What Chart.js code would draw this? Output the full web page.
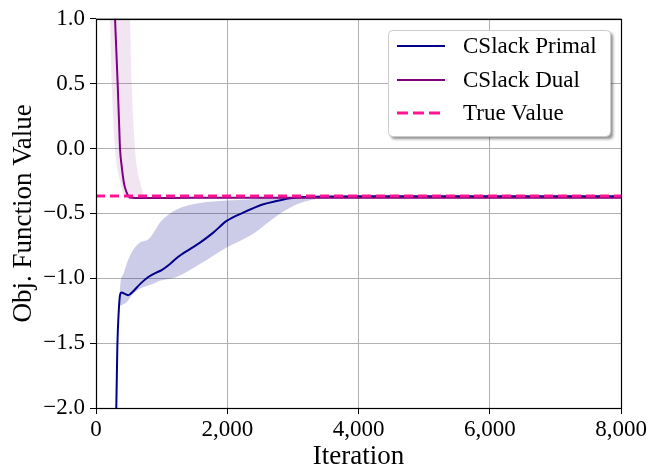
<!DOCTYPE html>
<html><head><meta charset="utf-8">
<script src="https://cdn.jsdelivr.net/npm/chart.js@4.4.0/dist/chart.umd.min.js"></script>
<style>html,body{margin:0;padding:0;background:#fff;overflow:hidden}#wrap{width:658px;height:466px;position:relative}</style>
</head><body><div id="wrap"><canvas id="c"></canvas></div>
<script>
// ---- data ----
const xTicks = [0, 2000, 4000, 6000, 8000];
const yTicks = [-2.0, -1.5, -1.0, -0.5, 0.0, 0.5, 1.0];
const trueIter = [0, 8000];
const trueValue = [-0.366, -0.366];

const primalIter = [300, 325, 345, 366, 391, 440, 492, 568, 670, 797, 925, 1001, 1128, 1254, 1432, 1585, 1787, 1991, 2245, 2550, 2753, 2956, 3210, 3600, 4000, 5000, 6000, 7000, 8000];
const primalMean = [-2.3, -1.53, -1.27, -1.13, -1.11, -1.12, -1.13, -1.10, -1.045, -0.99, -0.955, -0.937, -0.89, -0.834, -0.775, -0.725, -0.648, -0.558, -0.494, -0.43, -0.405, -0.384, -0.374, -0.37, -0.368, -0.368, -0.368, -0.368, -0.368];

const primalBandIter = [355, 376, 416, 467, 544, 670, 797, 925, 975, 1229, 1585, 1991, 2347, 2448, 2652, 2956, 3210, 3566, 4000, 8000];
const primalUpper = [-1.15, -1.02, -0.97, -0.89, -0.80, -0.725, -0.70, -0.61, -0.57, -0.47, -0.42, -0.40, -0.39, -0.384, -0.38, -0.374, -0.37, -0.368, -0.366, -0.365];
const primalLower = [-1.20, -1.21, -1.20, -1.185, -1.13, -1.08, -1.055, -1.03, -1.02, -0.99, -0.89, -0.763, -0.673, -0.64, -0.558, -0.456, -0.405, -0.38, -0.375, -0.375];

const dualIter = [200, 250, 290, 310, 330, 350, 366, 390, 427, 460, 500, 540, 600, 800, 1500, 3000, 5000, 8000];
const dualMean = [3.0, 1.6, 1.0, 0.75, 0.5, 0.22, 0.0, -0.13, -0.27, -0.33, -0.37, -0.38, -0.381, -0.381, -0.38, -0.38, -0.38, -0.38];

const dualBandIter = [150, 213, 239, 290, 366, 420, 470, 518, 544, 594, 670, 747, 850, 1000, 8000];
const dualUpper = [6.0, 5.0, 4.5, 3.5, 2.5, 1.9, 1.4, 1.0, 0.5, 0.0, -0.25, -0.36, -0.372, -0.374, -0.374];
const dualLower = [2.5, 1.0, 0.5, 0.0, -0.25, -0.36, -0.385, -0.388, -0.388, -0.387, -0.386, -0.386, -0.386, -0.386, -0.386];

const legendLabels = ['CSlack Primal', 'CSlack Dual', 'True Value'];

// ---- colours / styles ----
const PRIMAL = '#00008b', DUAL = '#800080', TRUE = '#ff1493';
const FONT = "'Liberation Serif', 'Times New Roman', serif";
const DASH = [9, 5];

const pts = (xs, ys) => xs.map((x, i) => ({x: x, y: ys[i]}));

const frameAndLegend = {
  id: 'frameAndLegend',
  afterDraw(chart) {
    const {ctx, chartArea: a} = chart;
    ctx.save();
    ctx.strokeStyle = '#000';
    ctx.lineWidth = 1.2;
    ctx.strokeRect(Math.round(a.left) + 0.5, Math.round(a.top) + 0.5, Math.round(a.right - a.left), Math.round(a.bottom - a.top));
    // legend
    const bx = 388, by = 30, bw = 222, bh = 106, r = 4;
    const rr = (x, y, w, h) => { ctx.beginPath(); ctx.moveTo(x + r, y); ctx.arcTo(x + w, y, x + w, y + h, r); ctx.arcTo(x + w, y + h, x, y + h, r); ctx.arcTo(x, y + h, x, y, r); ctx.arcTo(x, y, x + w, y, r); ctx.closePath(); };
    ctx.save();
    ctx.shadowColor = 'rgba(0,0,0,0.45)';
    ctx.shadowOffsetX = 3; ctx.shadowOffsetY = 3; ctx.shadowBlur = 3;
    rr(bx, by, bw, bh);
    ctx.fillStyle = '#fff'; ctx.fill();
    ctx.restore();
    rr(bx + 0.5, by + 0.5, bw, bh);
    ctx.strokeStyle = '#cccccc'; ctx.lineWidth = 1; ctx.stroke();
    const cols = [PRIMAL, DUAL, TRUE];
    const ys = [46, 80, 113];
    ctx.font = '23px ' + FONT;
    ctx.textBaseline = 'middle';
    ctx.textAlign = 'left';
    for (let i = 0; i < 3; i++) {
      ctx.beginPath();
      ctx.strokeStyle = cols[i];
      ctx.lineWidth = i === 2 ? 3 : 2;
      ctx.setLineDash(i === 2 ? [11, 5] : []);
      ctx.moveTo(397, ys[i]); ctx.lineTo(445, ys[i]);
      ctx.stroke();
      ctx.setLineDash([]);
      ctx.fillStyle = '#000';
      ctx.fillText(legendLabels[i], 463, ys[i] + 1);
    }
    ctx.restore();
  }
};

const fmtY = v => (v < 0 ? '\u2212' : '') + Math.abs(v).toFixed(1);
const fmtX = v => v.toLocaleString('en-US');

new Chart(document.getElementById('c'), {
  type: 'line',
  data: {
    datasets: [
      {label: 'True Value', data: pts(trueIter, trueValue), borderColor: TRUE, borderWidth: 3, borderDash: DASH, pointRadius: 0, fill: false},
      {label: 'CSlack Dual', data: pts(dualIter, dualMean), borderColor: DUAL, borderWidth: 2, pointRadius: 0, fill: false, cubicInterpolationMode: 'monotone'},
      {label: 'dual upper', data: pts(dualBandIter, dualUpper), borderWidth: 0, borderColor: 'rgba(0,0,0,0)', pointRadius: 0, fill: '+1', backgroundColor: 'rgba(128,0,128,0.1)', cubicInterpolationMode: 'monotone'},
      {label: 'dual lower', data: pts(dualBandIter, dualLower), borderWidth: 0, borderColor: 'rgba(0,0,0,0)', pointRadius: 0, fill: false, cubicInterpolationMode: 'monotone'},
      {label: 'CSlack Primal', data: pts(primalIter, primalMean), borderColor: PRIMAL, borderWidth: 2, pointRadius: 0, fill: false, cubicInterpolationMode: 'monotone'},
      {label: 'primal upper', data: pts(primalBandIter, primalUpper), borderWidth: 0, borderColor: 'rgba(0,0,0,0)', pointRadius: 0, fill: '+1', backgroundColor: 'rgba(0,0,139,0.2)', cubicInterpolationMode: 'monotone'},
      {label: 'primal lower', data: pts(primalBandIter, primalLower), borderWidth: 0, borderColor: 'rgba(0,0,0,0)', pointRadius: 0, fill: false, cubicInterpolationMode: 'monotone'}
    ]
  },
  options: {
    responsive: true, maintainAspectRatio: false, animation: false,
    layout: {padding: {left: 0, top: 17, right: 37, bottom: 0}},
    plugins: {legend: {display: false}, tooltip: {enabled: false}},
    elements: {line: {borderCapStyle: 'butt'}},
    scales: {
      x: {
        type: 'linear', min: 0, max: 8000,
        afterBuildTicks: s => { s.ticks = xTicks.map(v => ({value: v})); },
        afterFit: s => { s.height = 58; },
        ticks: {callback: v => fmtX(v), color: '#000', font: {family: FONT, size: 23}, padding: 2, maxRotation: 0, autoSkip: false},
        grid: {color: '#b0b0b0', lineWidth: 1, tickColor: '#000', tickLength: 6},
        border: {display: false},
        title: {display: true, text: 'Iteration', color: '#000', font: {family: FONT, size: 27}, padding: {top: 0, bottom: -7.5}}
      },
      y: {
        type: 'linear', min: -2, max: 1,
        afterBuildTicks: s => { s.ticks = yTicks.map(v => ({value: v})); },
        afterFit: s => { s.width = 96; },
        ticks: {callback: v => fmtY(v), color: '#000', font: {family: FONT, size: 23}, padding: 5, autoSkip: false},
        grid: {color: '#b0b0b0', lineWidth: 1, tickColor: '#000', tickLength: 6},
        border: {display: false},
        title: {display: true, text: 'Obj. Function Value', color: '#000', font: {family: FONT, size: 27}, padding: {top: 8, bottom: 0}}
      }
    }
  },
  plugins: [frameAndLegend]
});
</script></body></html>
